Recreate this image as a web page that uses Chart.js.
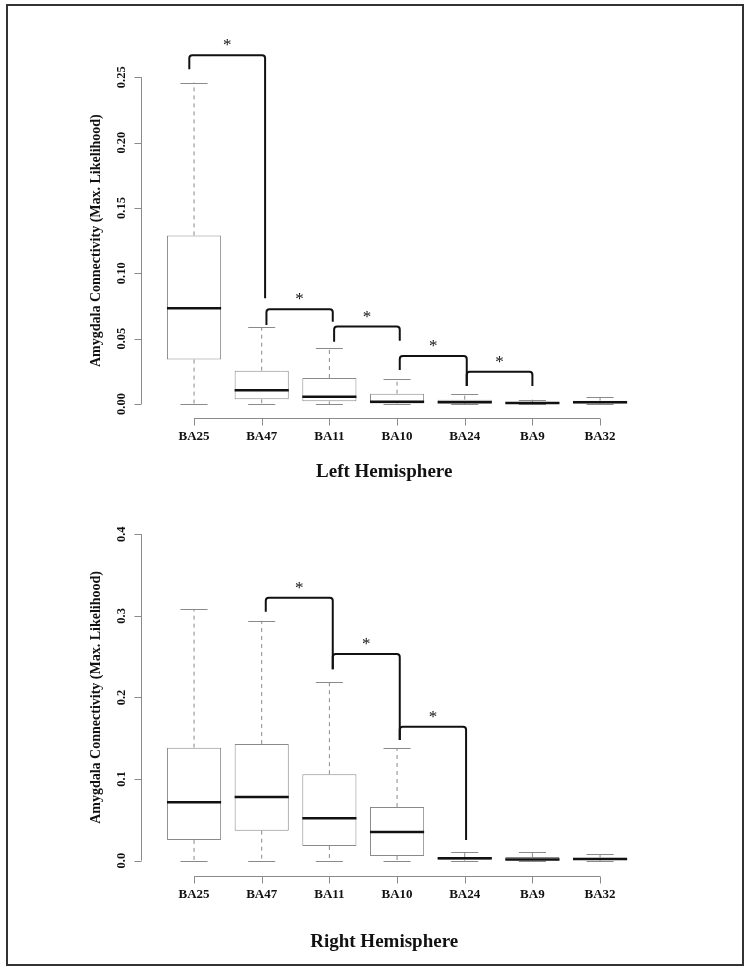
<!DOCTYPE html>
<html>
<head>
<meta charset="utf-8">
<script src="https://cdn.jsdelivr.net/npm/chart.js@4.4.1/dist/chart.umd.min.js"></script>
<style>
  body { margin: 0; background: #fff; }
  #frame { position: absolute; left: 6px; top: 4px; width: 738px; height: 962px; box-sizing: border-box; border: 2px solid #333; }
  canvas { position: absolute; left: 0; }
</style>
</head>
<body>
<div id="frame"></div>
<canvas id="chart-left" width="749" height="485" style="top:0"></canvas>
<canvas id="chart-right" width="749" height="486" style="top:485px"></canvas>
<script>
/* **** DATA **** */
const categories = ['BA25', 'BA47', 'BA11', 'BA10', 'BA24', 'BA9', 'BA32'];

// left hemisphere
const leftMin    = [0, 0, 0, 0, 0, 0, 0];
const leftQ1     = [0.034, 0.0036, 0.002, 0.0004, 0.0005, 0.0003, 0.0004];
const leftMedian = [0.0733, 0.0105, 0.0056, 0.0018, 0.0013, 0.0008, 0.0013];
const leftQ3     = [0.129, 0.0255, 0.0199, 0.0079, 0.0033, 0.0013, 0.0025];
const leftMax    = [0.246, 0.0587, 0.0429, 0.0191, 0.0074, 0.0033, 0.0054];
const leftTicks  = [0, 0.05, 0.10, 0.15, 0.20, 0.25];

// right hemisphere
const rightMin    = [0, 0, 0, 0, 0, 0, 0];
const rightQ1     = [0.0254, 0.0368, 0.018, 0.0057, 0.001, 0.0005, 0.0008];
const rightMedian = [0.0716, 0.078, 0.052, 0.0351, 0.003, 0.0013, 0.002];
const rightQ3     = [0.1385, 0.143, 0.1059, 0.0658, 0.0045, 0.0045, 0.0037];
const rightMax    = [0.3084, 0.294, 0.2194, 0.138, 0.0103, 0.011, 0.0078];
const rightTicks  = [0, 0.1, 0.2, 0.3, 0.4];

// significance brackets (x in category index, y in data units)
const leftBracketFrom     = [-0.07, 1.07, 2.07, 3.04, 4.03];
const leftBracketTo       = [1.05, 2.05, 3.04, 4.03, 5.0];
const leftBracketTop      = [0.2669, 0.0725, 0.0592, 0.0367, 0.0247];
const leftBracketLeftEnd  = [0.2561, 0.0605, 0.0477, 0.026, 0.0138];
const leftBracketRightEnd = [0.0809, 0.063, 0.0484, 0.0138, 0.0138];

const rightBracketFrom     = [1.06, 2.05, 3.04];
const rightBracketTo       = [2.05, 3.04, 4.02];
const rightBracketTop      = [0.3223, 0.2533, 0.1642];
const rightBracketLeftEnd  = [0.305, 0.2345, 0.148];
const rightBracketRightEnd = [0.2345, 0.148, 0.0254];

const yTitle = 'Amygdala Connectivity (Max. Likelihood)';
const SERIF = "'Liberation Serif', 'Times New Roman', serif";

/* **** PLUGIN: whiskers, medians, axes, brackets **** */
const boxExtras = {
    id: 'boxExtras',
    afterDatasetsDraw(chart) {
        const o = chart.options.plugins.boxExtras;
        const ctx = chart.ctx;
        const xs = chart.scales.x, ys = chart.scales.y;
        const area = chart.chartArea;
        const bars = chart.getDatasetMeta(0).data;
        ctx.save();

        // whiskers + medians
        categories.forEach((c, i) => {
            const x = xs.getPixelForValue(i);
            const w = bars[i].width;
            ctx.strokeStyle = '#8a8a8a';
            ctx.lineWidth = 1;
            ctx.setLineDash([4, 4]);
            ctx.beginPath();
            ctx.moveTo(x, ys.getPixelForValue(o.q3[i]));
            ctx.lineTo(x, ys.getPixelForValue(o.max[i]));
            ctx.moveTo(x, ys.getPixelForValue(o.q1[i]));
            ctx.lineTo(x, ys.getPixelForValue(o.min[i]));
            ctx.stroke();
            ctx.setLineDash([]);
            ctx.beginPath();
            [o.max[i], o.min[i]].forEach(v => {
                const y = Math.round(ys.getPixelForValue(v)) + 0.5;
                ctx.moveTo(x - w / 4, y);
                ctx.lineTo(x + w / 4, y);
            });
            ctx.stroke();
            ctx.strokeStyle = '#111';
            ctx.lineWidth = 2.5;
            ctx.beginPath();
            const ym = ys.getPixelForValue(o.median[i]);
            ctx.moveTo(x - w / 2, ym);
            ctx.lineTo(x + w / 2, ym);
            ctx.stroke();
        });

        // y axis (R style, rotated labels)
        const ax = Math.round(xs.getPixelForValue(-0.78)) + 0.5;
        const yTop = ys.getPixelForValue(o.ticks[o.ticks.length - 1]);
        const yBot = ys.getPixelForValue(o.ticks[0]);
        ctx.strokeStyle = '#8a8a8a';
        ctx.lineWidth = 1;
        ctx.beginPath();
        ctx.moveTo(ax, yTop);
        ctx.lineTo(ax, yBot);
        o.ticks.forEach(t => {
            const y = Math.round(ys.getPixelForValue(t)) + 0.5;
            ctx.moveTo(ax, y);
            ctx.lineTo(ax - 7, y);
        });
        ctx.stroke();
        ctx.fillStyle = '#111';
        ctx.textAlign = 'center';
        ctx.textBaseline = 'middle';
        ctx.font = 'bold 12.5px ' + SERIF;
        o.ticks.forEach(t => {
            ctx.save();
            ctx.translate(ax - 20, ys.getPixelForValue(t));
            ctx.rotate(-Math.PI / 2);
            ctx.fillText(t.toFixed(o.decimals), 0, 0);
            ctx.restore();
        });
        ctx.save();
        ctx.font = 'bold 14px ' + SERIF;
        ctx.translate(ax - 45, (yTop + yBot) / 2);
        ctx.rotate(-Math.PI / 2);
        ctx.fillText(yTitle, 0, 0);
        ctx.restore();

        // x axis
        const bx = Math.round(area.bottom) + 0.5;
        ctx.beginPath();
        ctx.moveTo(xs.getPixelForValue(0), bx);
        ctx.lineTo(xs.getPixelForValue(categories.length - 1), bx);
        categories.forEach((c, i) => {
            const x = Math.round(xs.getPixelForValue(i)) + 0.5;
            ctx.moveTo(x, bx);
            ctx.lineTo(x, bx + 7);
        });
        ctx.stroke();
        ctx.font = 'bold 13px ' + SERIF;
        categories.forEach((c, i) => ctx.fillText(c, xs.getPixelForValue(i), bx + 18));

        // panel title
        ctx.font = 'bold 19px ' + SERIF;
        ctx.fillText(o.title, xs.getPixelForValue(2.81), bx + o.titleGap);

        // brackets with stars
        ctx.strokeStyle = '#111';
        ctx.lineWidth = 2;
        ctx.lineJoin = 'round';
        o.bFrom.forEach((f, k) => {
            const x1 = xs.getPixelForValue(f), x2 = xs.getPixelForValue(o.bTo[k]);
            const yt = ys.getPixelForValue(o.bTop[k]);
            ctx.beginPath();
            ctx.moveTo(x1, ys.getPixelForValue(o.bLeft[k]));
            ctx.arcTo(x1, yt, x2, yt, 3);
            ctx.arcTo(x2, yt, x2, ys.getPixelForValue(o.bRight[k]), 3);
            ctx.lineTo(x2, ys.getPixelForValue(o.bRight[k]));
            ctx.stroke();
            ctx.font = '17px ' + SERIF;
            ctx.textBaseline = 'alphabetic';
            ctx.fillText('*', (x1 + x2) / 2, yt - 5);
            ctx.textBaseline = 'middle';
        });
        ctx.restore();
    }
};

function makeChart(id, q1, q3, extras, yMin, yMax, padding) {
    return new Chart(document.getElementById(id), {
        type: 'bar',
        data: {
            labels: categories,
            datasets: [{
                data: q1.map((v, i) => [v, q3[i]]),
                backgroundColor: '#ffffff',
                borderColor: '#8a8a8a',
                borderWidth: 1,
                borderSkipped: false,
                barPercentage: 0.8,
                categoryPercentage: 1.0
            }]
        },
        options: {
            responsive: false,
            animation: false,
            layout: { padding: padding },
            scales: {
                x: { display: false, offset: true },
                y: { display: false, min: yMin, max: yMax }
            },
            plugins: {
                legend: { display: false },
                tooltip: { enabled: false },
                boxExtras: extras
            }
        },
        plugins: [boxExtras]
    });
}

/* **** MAIN **** */
makeChart('chart-left', leftQ1, leftQ3, {
    min: leftMin, q1: leftQ1, median: leftMedian, q3: leftQ3, max: leftMax,
    ticks: leftTicks, decimals: 2, title: 'Left Hemisphere', titleGap: 54,
    bFrom: leftBracketFrom, bTo: leftBracketTo, bTop: leftBracketTop,
    bLeft: leftBracketLeftEnd, bRight: leftBracketRightEnd
}, -0.0105, 0.28, { left: 160.2, right: 115.1, top: 38.1, bottom: 67.3 });

makeChart('chart-right', rightQ1, rightQ3, {
    min: rightMin, q1: rightQ1, median: rightMedian, q3: rightQ3, max: rightMax,
    ticks: rightTicks, decimals: 1, title: 'Right Hemisphere', titleGap: 66,
    bFrom: rightBracketFrom, bTo: rightBracketTo, bTop: rightBracketTop,
    bLeft: rightBracketLeftEnd, bRight: rightBracketRightEnd
}, -0.0188, 0.42, { left: 160.2, right: 115.1, top: 32.9, bottom: 95 });
</script>
</body>
</html>
